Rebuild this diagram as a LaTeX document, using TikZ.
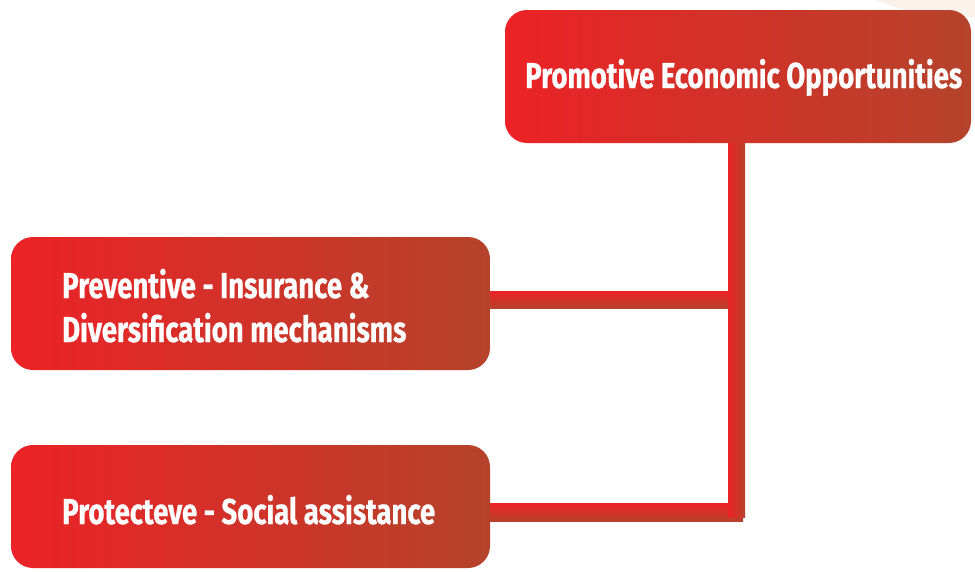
\documentclass[tikz,border=0pt]{standalone}
\usepackage{fontspec}
\usetikzlibrary{calc}
\newfontfamily\boxfont[FakeStretch=0.765, BoldFeatures={FakeBold=0.6}]{Fira Sans}
\definecolor{boxL}{HTML}{EC2227}
\definecolor{boxR}{HTML}{B5432B}
\definecolor{haze}{HTML}{FAF1EB}
\tikzset{
  box/.style={rectangle, rounded corners=22pt, left color=boxL, right color=boxR,
    draw=none, inner sep=0pt},
  boxtext/.style={text=white, inner sep=0pt, anchor=base west,
    font=\boxfont\bfseries\fontsize{36}{44}\selectfont},
  hbar/.style={top color=boxL, bottom color=boxR!95!boxL},
  vbar/.style={left color=boxL, right color=boxR!95!boxL},
}
\begin{document}
\begin{tikzpicture}[x=1pt, y=-1pt]
  \useasboundingbox (0,0) rectangle (975,571);
  \fill[white] (0,0) rectangle (975,571);
  % soft background swash in the corner
  \fill[haze] (876,0) .. controls (905,13) and (940,16) .. (975,17) -- (975,0) -- cycle;

  % boxes
  \node[box, minimum width=466pt, minimum height=133pt] (top) at (738,76.5) {};
  \node[box, minimum width=479pt, minimum height=133pt] (mid) at (250.5,303.5) {};
  \node[box, minimum width=479pt, minimum height=123pt] (bot) at (250.5,506.5) {};

  % labels
  \node[boxtext] (toplabel) at (525,88) {Promotive Economic Opportunities};
  \node[boxtext] (midlabel1) at (62,298) {Preventive - Insurance \&};
  \node[boxtext] (midlabel2) at (62,342) {Diversification mechanisms};
  \node[boxtext] (botlabel) at (62,524) {Protecteve - Social assistance};

  % junctions on the trunk
  \coordinate (j1) at (736.5,299.5);
  \coordinate (j2) at (736.5,512);

  % connectors
  \shade[hbar] ($(bot.east |- j2)+(0,-9)$) rectangle ($(j2)+(6.5,9)$);
  \shade[vbar] ($(top.south -| j1)+(-8.5,0)$) rectangle ($(j2)+(8.5,5)$);
  \shade[hbar] ($(mid.east |- j1)+(0,-8.5)$) rectangle ($(j1)+(-8.5,8.5)$);
\end{tikzpicture}
\end{document}
